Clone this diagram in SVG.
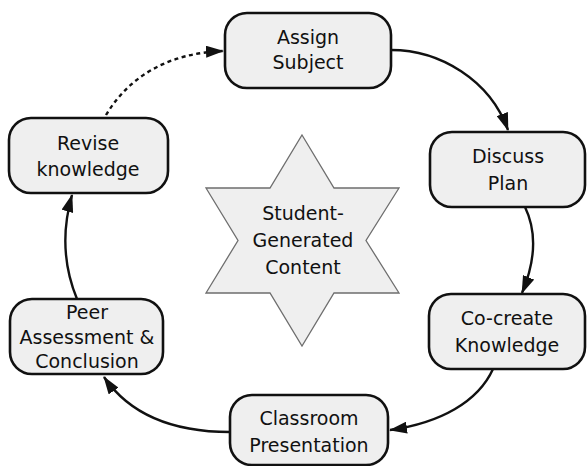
<svg xmlns="http://www.w3.org/2000/svg" width="587" height="466" viewBox="0 0 587 466">
<style>
.box{fill:#efefef;stroke:#111;stroke-width:2.6}
.lbl{font-family:"DejaVu Sans",sans-serif;font-size:19px;fill:#111;text-anchor:middle}
.star{fill:#efefef;stroke:#6e6e6e;stroke-width:1.3}
.conn{fill:none;stroke:#111;stroke-width:2.4;marker-end:url(#ah)}
.dash{stroke-dasharray:4 3.5}
</style>
<defs>
<marker id="ah" viewBox="0 0 18 12" refX="17" refY="6" markerWidth="18" markerHeight="12" orient="auto" markerUnits="userSpaceOnUse">
<path d="M0,0 L18,6 L0,12 z" fill="#111"/>
</marker>
</defs>
<rect width="587" height="466" fill="#fff"/>
<g id="connectors">
<path class="conn" d="M391,50 C440,50 490,80 508,130"/>
<path class="conn" d="M525,207 C537,232 535,262 522,293"/>
<path class="conn" d="M493,369 C478,402 440,423 390,430"/>
<path class="conn" d="M230,432 C170,432 128,412 104,377"/>
<path class="conn" d="M77,299 C63,265 62,230 72,195"/>
<path class="conn dash" d="M106,115 C130,75 170,53 223,51"/>
</g>
<g id="center">
<polygon class="star" points="302,135 334,188 399,188 366,240.5 399,293 334,293 302,346 270,293 206,293 238,240.5 206,188 270,188"/>
<text class="lbl" x="303" y="220">Student-</text>
<text class="lbl" x="303" y="247">Generated</text>
<text class="lbl" x="303" y="274">Content</text>
</g>
<g id="assign">
<rect class="box" x="225" y="13" width="166" height="75" rx="22"/>
<text class="lbl" x="308" y="44">Assign</text>
<text class="lbl" x="308" y="69">Subject</text>
</g>
<g id="discuss">
<rect class="box" x="430" y="132" width="155" height="75" rx="22"/>
<text class="lbl" x="508" y="163">Discuss</text>
<text class="lbl" x="508" y="190">Plan</text>
</g>
<g id="cocreate">
<rect class="box" x="429" y="294" width="156" height="75" rx="22"/>
<text class="lbl" x="507" y="325">Co-create</text>
<text class="lbl" x="507" y="352">Knowledge</text>
</g>
<g id="classroom">
<rect class="box" x="230" y="395" width="158" height="70" rx="22"/>
<text class="lbl" x="309" y="425">Classroom</text>
<text class="lbl" x="309" y="452">Presentation</text>
</g>
<g id="peer">
<rect class="box" x="10" y="299" width="153" height="75" rx="22"/>
<text class="lbl" x="87" y="319">Peer</text>
<text class="lbl" x="87" y="344">Assessment &amp;</text>
<text class="lbl" x="87" y="368">Conclusion</text>
</g>
<g id="revise">
<rect class="box" x="9" y="118" width="159" height="75" rx="22"/>
<text class="lbl" x="88" y="150">Revise</text>
<text class="lbl" x="88" y="176">knowledge</text>
</g>
</svg>
